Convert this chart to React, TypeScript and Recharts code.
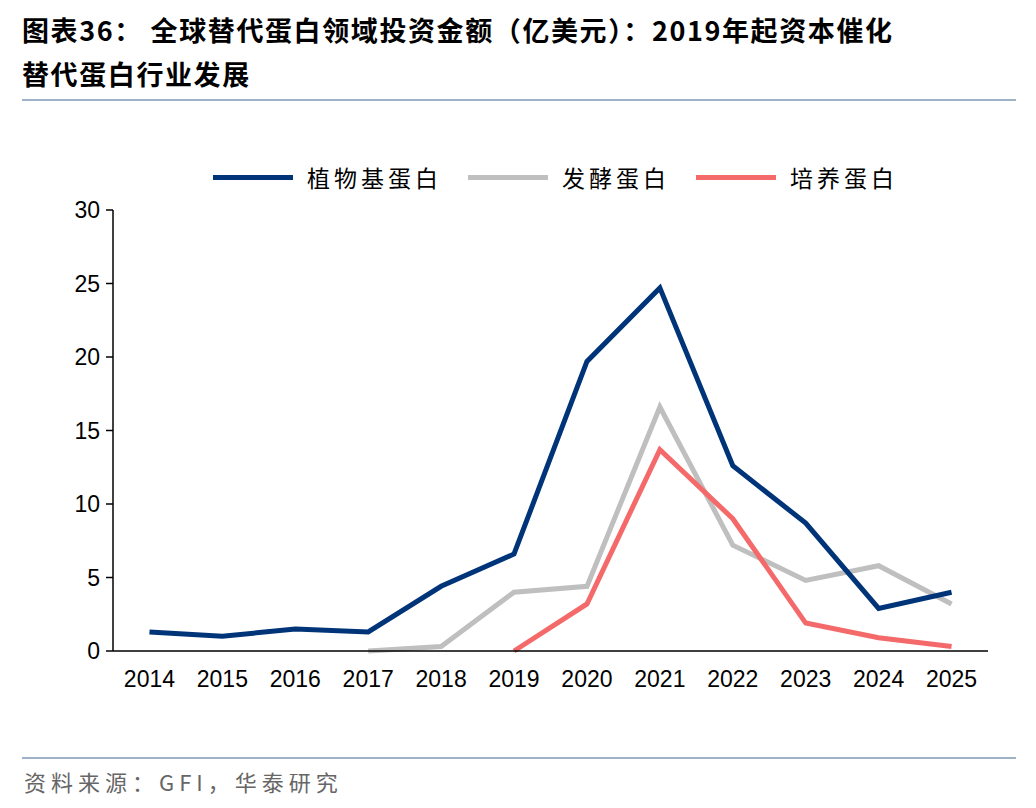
import { LineChart, Line, XAxis, YAxis } from "recharts"

const years = [2014, 2015, 2016, 2017, 2018, 2019, 2020, 2021, 2022, 2023, 2024, 2025]
const plantBased = [1.3, 1.0, 1.5, 1.3, 4.4, 6.6, 19.7, 24.7, 12.6, 8.7, 2.9, 4.0]
const fermentation = [null, null, null, 0, 0.3, 4.0, 4.4, 16.6, 7.2, 4.8, 5.8, 3.2]
const cultivated = [null, null, null, null, null, 0, 3.2, 13.7, 9.0, 1.9, 0.9, 0.3]
const yTicks = [0, 5, 10, 15, 20, 25, 30]
const bandEdges = [2013.5, 2014.5, 2015.5, 2016.5, 2017.5, 2018.5, 2019.5, 2020.5, 2021.5, 2022.5, 2023.5, 2024.5, 2025.5]

const data = years.map((y, i) => ({
  year: y,
  plant: plantBased[i],
  ferm: fermentation[i],
  cult: cultivated[i],
}))

const legend = [
  { name: "植物基蛋白", color: "#003478" },
  { name: "发酵蛋白", color: "#BFBFBF" },
  { name: "培养蛋白", color: "#F46A6A" },
]

const font = "'Liberation Sans', Arial, sans-serif"

export default function App() {
  return (
    <div style={{ position: "absolute", left: 0, top: 0, width: 1036, height: 808, background: "#fff", fontFamily: "'Noto Sans CJK SC', sans-serif" }}>
      <div style={{ position: "absolute", left: 22, top: 8, fontSize: 27, fontWeight: 700, lineHeight: "44px", color: "#000", letterSpacing: 1.6, whiteSpace: "nowrap" }}>
        图表36：&nbsp;全球替代蛋白领域投资金额（亿美元）：2019年起资本催化<br />替代蛋白行业发展
      </div>
      <div style={{ position: "absolute", left: 22, top: 99, width: 994, height: 2, background: "#9FB3C8" }} />
      <div style={{ position: "absolute", left: 213, top: 160, display: "flex", gap: 26, fontSize: 23 }}>
        {legend.map((l) => (
          <div key={l.name} style={{ display: "flex", alignItems: "center", gap: 14 }}>
            <div style={{ width: 80, height: 5, background: l.color }} />
            <span style={{ letterSpacing: 4 }}>{l.name}</span>
          </div>
        ))}
      </div>
      <div style={{ position: "absolute", top: 0, left: 0 }}>
        <LineChart width={1036} height={700} data={data} margin={{ top: 210, right: 48, left: 0, bottom: 19 }}>
          <XAxis
            dataKey="year"
            type="number"
            domain={[2013.5, 2025.5]}
            ticks={years}
            tickLine={false}
            axisLine={{ stroke: "#000", strokeWidth: 1.5 }}
            tick={{ fontSize: 23, fill: "#000", fontFamily: font }}
            tickMargin={14}
            height={30}
          />
          <XAxis
            xAxisId="edges"
            dataKey="year"
            type="number"
            domain={[2013.5, 2025.5]}
            ticks={bandEdges}
            tick={false}
            tickSize={7}
            tickLine={{ stroke: "#000", strokeWidth: 1.5 }}
            axisLine={false}
            height={0}
          />
          <YAxis
            width={113}
            domain={[0, 30]}
            ticks={yTicks}
            tickSize={7}
            tickLine={{ stroke: "#000", strokeWidth: 1.5 }}
            axisLine={{ stroke: "#000", strokeWidth: 1.5 }}
            tick={{ fontSize: 23, fill: "#000", fontFamily: font }}
            tickMargin={6}
          />
          <Line dataKey="ferm" stroke="#BFBFBF" strokeWidth={5} dot={false} isAnimationActive={false} />
          <Line dataKey="cult" stroke="#F46A6A" strokeWidth={5} dot={false} isAnimationActive={false} />
          <Line dataKey="plant" stroke="#003478" strokeWidth={5} dot={false} isAnimationActive={false} />
        </LineChart>
      </div>
      <div style={{ position: "absolute", left: 22, top: 757, width: 994, height: 2, background: "#9FB3C8" }} />
      <div style={{ position: "absolute", left: 24, top: 765, fontSize: 22, color: "#666", letterSpacing: 5 }}>
        资料来源：GFI，华泰研究
      </div>
    </div>
  )
}
